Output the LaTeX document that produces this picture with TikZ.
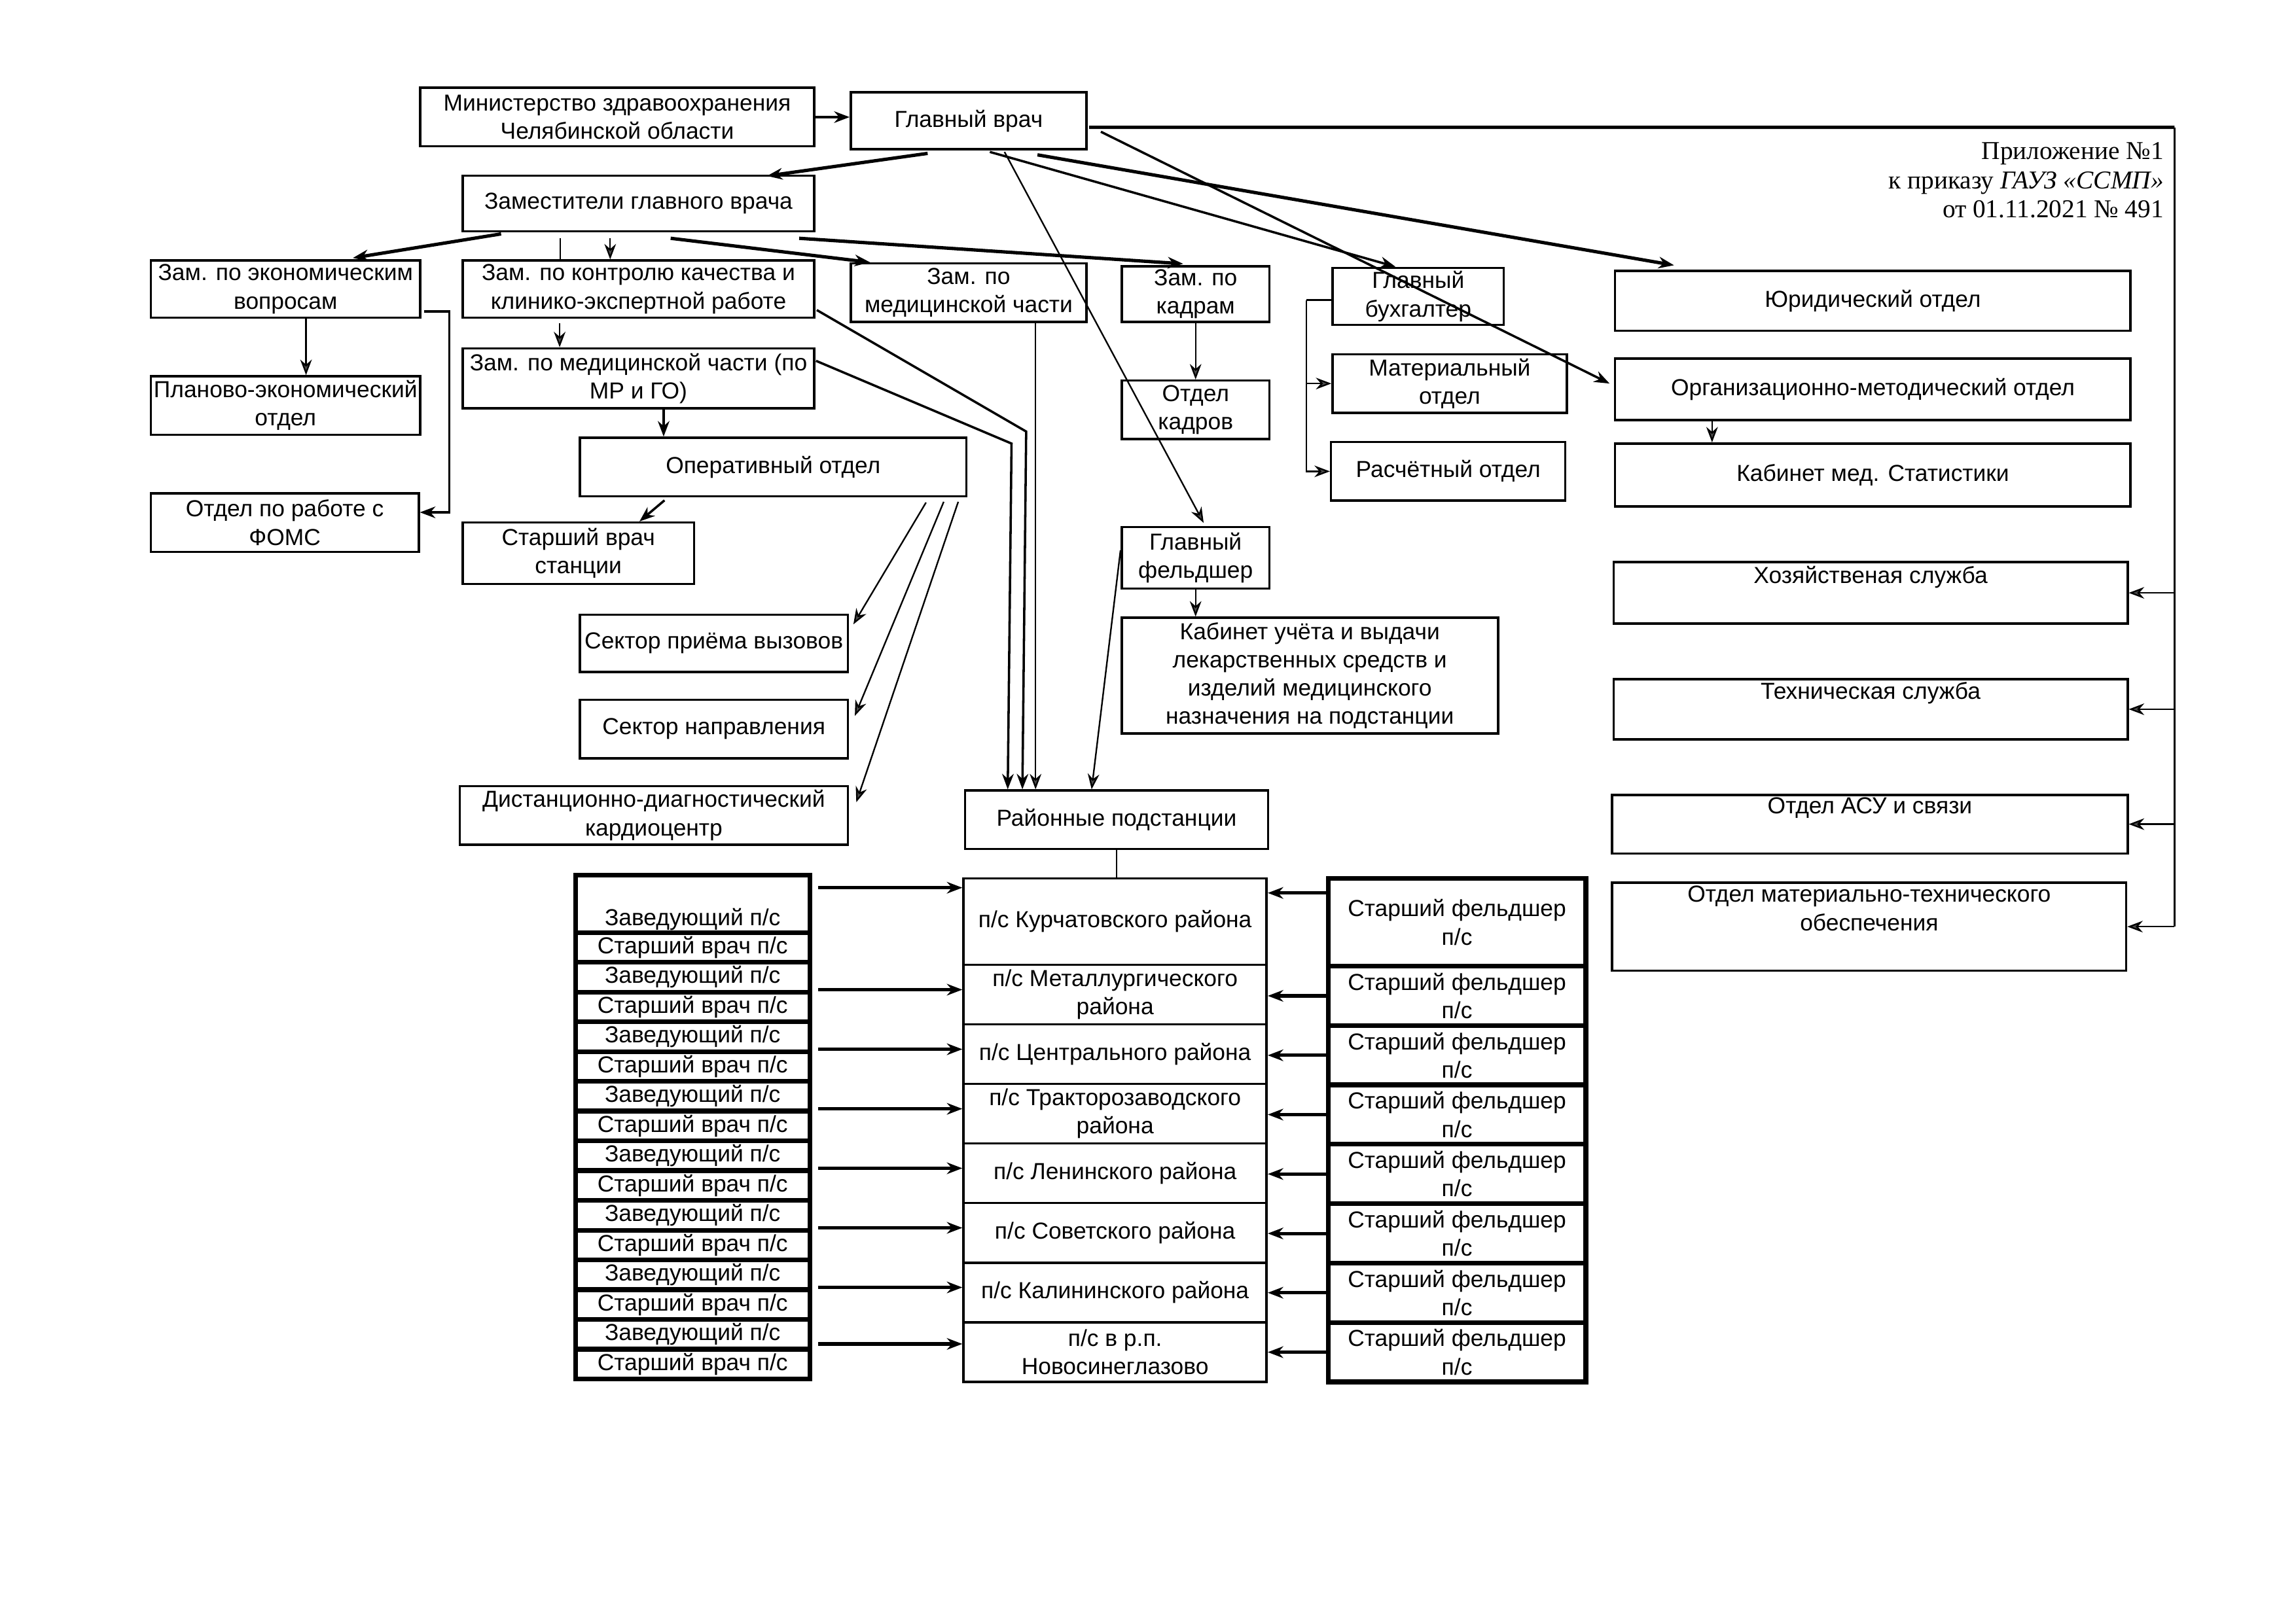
\documentclass[tikz,border=0pt]{standalone}
\usepackage{fontspec}
\setmainfont{Liberation Sans}
\newfontfamily\timesfont{Liberation Serif}
\usetikzlibrary{arrows.meta,calc}

\tikzset{
  box/.style 2 args={draw, line width=0.9pt, minimum width=#1*0.2mm, minimum height=#2*0.2mm,
    inner sep=1pt, align=center, font=\fontsize{9}{11}\selectfont},
  cell/.style 2 args={box={#1}{#2}, line width=1.8pt, inner sep=0.5pt},
  lnthin/.style={line width=0.6pt},
  lnmed/.style={line width=0.9pt},
  lnthick/.style={line width=1.3pt},
}

\begin{document}
\begin{tikzpicture}[>={Stealth[length=6pt,width=4.5pt,fill=gray!60!black]},x=0.2mm,y=0.2mm]
		\useasboundingbox (0,0) rectangle (1568,-1109);
		
		% head of the chart
		\node[box={269}{40}] (min) at (421.5,-80) {Министерство здравоохранения\\Челябинской области};
		\node[box={161}{39}] (gv) at (661.5,-82.5) {Главный врач};
		\node[box={240}{38}] (zam) at (436,-139) {Заместители главного врача};
		\node[anchor=north east, align=right, inner sep=0pt, font=\timesfont\fontsize{10}{11.3}\selectfont] (pril) at (1478,-97)
			{Приложение №1\\к приказу \textit{ГАУЗ «ССМП»}\\от 01.11.2021 № 491};
		
		% deputies and departments
		\node[box={184}{39}] (zeco) at (195,-197.5) {Зам. по экономическим\\вопросам};
		\node[box={240}{39}] (zkach) at (436,-197.5) {Зам. по контролю качества и\\клинико-экспертной работе};
		\node[box={161}{40}] (zmed) at (661.5,-200) {Зам. по\\медицинской части};
		\node[box={101}{38}] (zkadr) at (816.5,-201) {Зам. по\\кадрам};
		\node[box={117}{39}] (gbuh) at (968.5,-202.5) {Главный\\бухгалтер};
		\node[box={352}{41}] (yur) at (1279,-205.5) {Юридический отдел};
		
		\node[box={184}{40}] (plan) at (195,-277) {Планово-экономический\\отдел};
		\node[box={240}{41}] (zmedmr) at (436,-258.5) {Зам. по медицинской части (по\\МР и ГО)};
		\node[box={101}{40}] (otdkadr) at (816.5,-280) {Отдел\\кадров};
		\node[box={160}{40}] (mater) at (990,-262) {Материальный\\отдел};
		\node[box={352}{42}] (orgm) at (1279,-266) {Организационно-методический отдел};
		
		\node[box={264}{40}] (oper) at (528,-319) {Оперативный отдел};
		\node[box={160}{40}] (rasch) at (989,-322) {Расчётный отдел};
		\node[box={352}{43}] (kabstat) at (1279,-324.5) {Кабинет мед. Статистики};
		
		\node[box={183}{40}] (foms) at (194.5,-357) {Отдел по работе с\\ФОМС};
		\node[box={158}{42}] (stvr) at (395,-378) {Старший врач\\станции};
		\node[box={101}{42}] (glf) at (816.5,-381) {Главный\\фельдшер};
		\node[box={351}{42}] (hoz) at (1277.5,-405) {Хозяйственая служба\\\strut};
		
		\node[box={183}{39}] (sekpr) at (487.5,-439.5) {Сектор приёма вызовов};
		\node[box={257}{79}] (kabuch) at (894.5,-461.5) {Кабинет учёта и выдачи\\лекарственных средств и\\изделий медицинского\\назначения на подстанции};
		\node[box={351}{41}] (tech) at (1277.5,-484.5) {Техническая служба\\\strut};
		\node[box={183}{40}] (seknapr) at (487.5,-498) {Сектор направления};
		
		\node[box={265}{40}] (dist) at (446.5,-557) {Дистанционно-диагностический\\кардиоцентр};
		\node[box={207}{40}] (rayon) at (762.5,-560) {Районные подстанции};
		\node[box={352}{40}] (asu) at (1277,-563) {Отдел АСУ и связи\\\strut};
		\node[box={351}{60}] (mto) at (1276.5,-633) {Отдел материально-технического\\обеспечения\\\strut};
		
		% substations
		\node[box={207}{59}] (ps1) at (761.5,-629.5) {п/с Курчатовского района};
		\node[box={207}{40.7}] (ps2) at (761.5,-679.4) {п/с Металлургического\\района};
		\node[box={207}{40.7}] (ps3) at (761.5,-720.1) {п/с Центрального района};
		\node[box={207}{40.7}] (ps4) at (761.5,-760.8) {п/с Тракторозаводского\\района};
		\node[box={207}{40.7}] (ps5) at (761.5,-801.5) {п/с Ленинского района};
		\node[box={207}{40.7}] (ps6) at (761.5,-842.2) {п/с Советского района};
		\node[box={207}{40.7}] (ps7) at (761.5,-882.9) {п/с Калининского района};
		\node[box={207}{40.7}] (ps8) at (761.5,-923.6) {п/с в р.п.\\Новосинеглазово};
		
		\node[cell={160}{39}] (lz1) at (473,-617.5) {\strut\\Заведующий п/с};
		\node[cell={160}{20.3}] (ls1) at (473,-647.2) {Старший врач п/с};
		\node[cell={160}{20.3}] (lz2) at (473,-667.5) {Заведующий п/с};
		\node[cell={160}{20.3}] (ls2) at (473,-687.8) {Старший врач п/с};
		\node[cell={160}{20.3}] (lz3) at (473,-708.2) {Заведующий п/с};
		\node[cell={160}{20.3}] (ls3) at (473,-728.5) {Старший врач п/с};
		\node[cell={160}{20.3}] (lz4) at (473,-748.8) {Заведующий п/с};
		\node[cell={160}{20.3}] (ls4) at (473,-769.2) {Старший врач п/с};
		\node[cell={160}{20.3}] (lz5) at (473,-789.5) {Заведующий п/с};
		\node[cell={160}{20.3}] (ls5) at (473,-809.8) {Старший врач п/с};
		\node[cell={160}{20.3}] (lz6) at (473,-830.2) {Заведующий п/с};
		\node[cell={160}{20.3}] (ls6) at (473,-850.5) {Старший врач п/с};
		\node[cell={160}{20.3}] (lz7) at (473,-870.8) {Заведующий п/с};
		\node[cell={160}{20.3}] (ls7) at (473,-891.2) {Старший врач п/с};
		\node[cell={160}{20.3}] (lz8) at (473,-911.5) {Заведующий п/с};
		\node[cell={160}{20.3}] (ls8) at (473,-931.8) {Старший врач п/с};
		
		\node[cell={176}{60}] (sf1) at (995,-630) {Старший фельдшер\\п/с};
		\node[cell={176}{40.6}] (sf2) at (995,-680.3) {Старший фельдшер\\п/с};
		\node[cell={176}{40.6}] (sf3) at (995,-720.9) {Старший фельдшер\\п/с};
		\node[cell={176}{40.6}] (sf4) at (995,-761.4) {Старший фельдшер\\п/с};
		\node[cell={176}{40.6}] (sf5) at (995,-802) {Старший фельдшер\\п/с};
		\node[cell={176}{40.6}] (sf6) at (995,-842.6) {Старший фельдшер\\п/с};
		\node[cell={176}{40.6}] (sf7) at (995,-883.1) {Старший фельдшер\\п/с};
		\node[cell={176}{40.6}] (sf8) at (995,-923.7) {Старший фельдшер\\п/с};
		
		% links from the chief physician
		\draw[->, lnmed] (min.east) -- (min.east -| gv.west);
		\draw[->, lnthick] ($(gv.south)+(-28,-2)$) -- ($(zam.north east)+(-33,-1)$);
		\draw[->, lnthin] ($(gv.south)+(24.5,-1)$) -- ($(glf.north)+(5.5,2)$);
		\draw[->, lnmed] ($(gv.south)+(14.5,-1)$) -- ($(gbuh.north)+(-15.5,0)$);
		\draw[->, lnthick] ($(gv.south)+(47,-3)$) -- ($(yur.north west)+(41,3)$);
		\draw[->, lnmed] ($(gv.east)+(9,-7.5)$) -- ($(orgm.west)+(-3,4)$);
		
		\coordinate (rt) at (1485,-87);
		\draw[lnthick] ($(gv.east)+(1,-4.5)$) -- (rt);
		\draw[lnthin] (rt) -- (rt |- mto.east);
		\draw[->, lnthin] (rt |- hoz.east) -- (hoz.east);
		\draw[->, lnthin] (rt |- tech.east) -- (tech.east);
		\draw[->, lnthin] (rt |- asu.east) -- (asu.east);
		\draw[->, lnthin] (rt |- mto.east) -- (mto.east);
		
		% links from the deputies
		\draw[->, lnthick] ($(zam.south west)+(27,-1)$) -- ($(zeco.north)+(46,1)$);
		\draw[lnthin] ($(zam.south west)+(67.5,-4)$) -- ($(zkach.north west)+(67.5,0)$);
		\draw[->, lnthin] ($(zam.south west)+(101.5,-4)$) -- ($(zkach.north west)+(101.5,0)$);
		\draw[->, lnthick] ($(zam.south)+(22,-4)$) -- ($(zmed.north west)+(14,0)$);
		\draw[->, lnthick] ($(zam.south east)+(-11,-4)$) -- ($(zkadr.north)+(-8.5,1)$);
		
		\draw[->, lnthin] ($(zeco.south)+(14,0)$) -- ($(plan.north)+(14,0)$);
		\draw[->, lnmed] ($(zeco.south east)+(2,5)$) -- ++(17,0) |- ($(foms.east)+(0,7)$);
		
		\draw[->, lnthin] ($(zkach.south west)+(67,-3)$) -- ($(zmedmr.north west)+(67,0)$);
		\draw[->, lnmed] ($(zkach.south east)+(1,6)$) -- ++(143,-83) -- ($(rayon.north west)+(40,0)$);
		\draw[->, lnmed] ($(zmedmr.east)+(0.5,12)$) -- ++(133.5,-56.5) -- ($(rayon.north west)+(30,0)$);
		\draw[->, lnthin] ($(zmed.south west)+(127,0)$) -- ($(rayon.north west)+(49,0)$);
		\draw[->, lnmed] ($(zmedmr.south west)+(138,0)$) -- ($(oper.north west)+(58,0)$);
		
		\draw[->, lnmed] ($(oper.south west)+(58.6,-2)$) -- ($(stvr.north)+(41.7,0)$);
		\draw[->, lnthin] ($(oper.south east)+(-28.4,-3.5)$) -- ($(sekpr.east)+(3,13)$);
		\draw[->, lnthin] ($(oper.south east)+(-16.3,-3)$) -- ($(seknapr.east)+(4,9)$);
		\draw[->, lnthin] ($(oper.south east)+(-6.4,-3)$) -- ($(dist.east)+(5,9)$);
		
		\draw[->, lnthin] (zkadr.south) -- (otdkadr.north);
		\coordinate (bk) at ($(gbuh.west)+(-17,-2.5)$);
		\draw[lnthin] ($(gbuh.west)+(0,-2.5)$) -- (bk);
		\draw[->, lnthin] (bk) |- (rasch.west);
		\draw[->, lnthin] (bk |- mater.west) -- (mater.west);
		\draw[->, lnthin] ($(orgm.south west)+(67,0)$) -- ($(kabstat.north west)+(67,0)$);
		\draw[->, lnthin] (glf.south) -- (glf.south |- kabuch.north);
		\draw[->, lnthin] ($(glf.west)+(0,5)$) -- ($(rayon.north)+(-17,0)$);
		\draw[lnthin] (rayon.south) -- (rayon.south |- ps1.north);
		
		% substation links
		\coordinate (lft1) at ($(lz1.north east)+(4,-10)$);
		\coordinate (lft8) at ($(ls8.north east)+(4,2)$);
		\coordinate (rgt1) at ($(sf1.west)+(0,20)$);
		\draw[->, lnthick] (lft1) -- (lft1 -| ps1.west);
		\draw[->, lnthick] ($(ls2.north east)+(4,0)$) -- (ls2.north east -| ps2.west);
		\draw[->, lnthick] ($(ls3.north east)+(4,0)$) -- (ls3.north east -| ps3.west);
		\draw[->, lnthick] ($(ls4.north east)+(4,0)$) -- (ls4.north east -| ps4.west);
		\draw[->, lnthick] ($(ls5.north east)+(4,0)$) -- (ls5.north east -| ps5.west);
		\draw[->, lnthick] ($(ls6.north east)+(4,0)$) -- (ls6.north east -| ps6.west);
		\draw[->, lnthick] ($(ls7.north east)+(4,0)$) -- (ls7.north east -| ps7.west);
		\draw[->, lnthick] (lft8) -- (lft8 -| ps8.west);
		
		\draw[->, lnthick] (rgt1) -- (rgt1 -| ps1.east);
		\draw[->, lnthick] (sf2.west) -- (sf2.west -| ps2.east);
		\draw[->, lnthick] (sf3.west) -- (sf3.west -| ps3.east);
		\draw[->, lnthick] (sf4.west) -- (sf4.west -| ps4.east);
		\draw[->, lnthick] (sf5.west) -- (sf5.west -| ps5.east);
		\draw[->, lnthick] (sf6.west) -- (sf6.west -| ps6.east);
		\draw[->, lnthick] (sf7.west) -- (sf7.west -| ps7.east);
		\draw[->, lnthick] (sf8.west) -- (sf8.west -| ps8.east);
	\end{tikzpicture}
\end{document}
